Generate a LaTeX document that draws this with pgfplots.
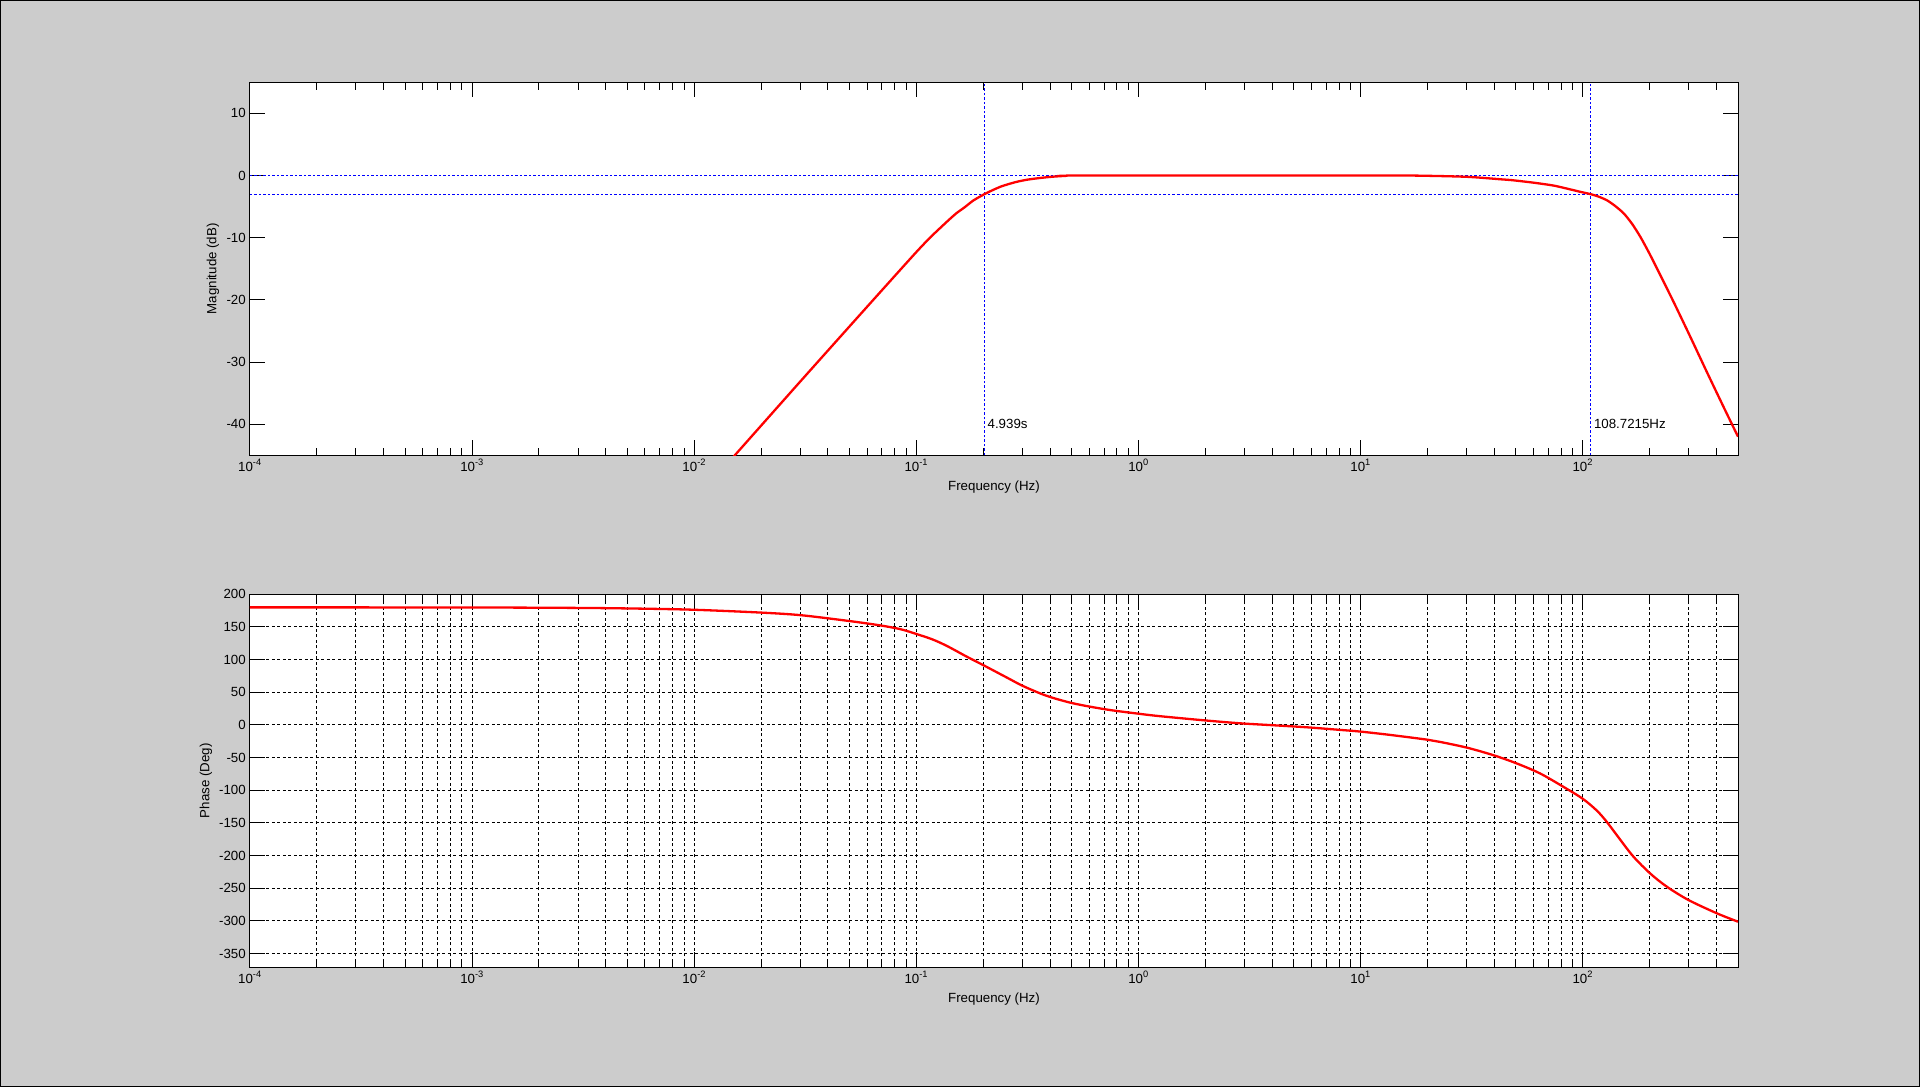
\documentclass[border=0pt]{standalone}
\usepackage{fontspec}
\setmainfont{Liberation Sans}
\usepackage{pgfplots}
\pgfplotsset{compat=1.18}

\definecolor{figbg}{RGB}{204,204,204}
\definecolor{mred}{RGB}{255,0,0}
\definecolor{mblue}{RGB}{0,0,255}

% 1px of the reference = 1pt here
\newcommand{\mf}{\fontsize{13.3}{15}\selectfont}
\newcommand{\freqticks}{10\textsuperscript{-4},10\textsuperscript{-3},10\textsuperscript{-2},10\textsuperscript{-1},10\textsuperscript{0},10\textsuperscript{1},10\textsuperscript{2}}

\begin{document}
\begin{tikzpicture}[x=1pt,y=1pt]
\fill[figbg] (0,0) rectangle (1920,1087);
\draw[line width=1pt] (0.5,0.5) rectangle (1919.5,1086.5);

% ---- magnitude ----
\begin{axis}[
  xmode=log,
  scale only axis,
  width=1488pt, height=373pt,
  at={(250pt,631.7pt)}, anchor=south west,
  xmin=1e-4, xmax=500,
  ymin=-45, ymax=15,
  axis background/.style={fill=white},
  axis line style={line width=1pt},
  every tick/.style={black, line width=1pt},
  major tick length=15pt, minor tick length=7.5pt,
  tick align=inside,
  xtick={1e-4,1e-3,1e-2,1e-1,1,10,100},
  xticklabels/.expand once=\freqticks,
  minor xtick={2e-4,3e-4,4e-4,5e-4,6e-4,7e-4,8e-4,9e-4,
               2e-3,3e-3,4e-3,5e-3,6e-3,7e-3,8e-3,9e-3,
               2e-2,3e-2,4e-2,5e-2,6e-2,7e-2,8e-2,9e-2,
               0.2,0.3,0.4,0.5,0.6,0.7,0.8,0.9,
               2,3,4,5,6,7,8,9,
               20,30,40,50,60,70,80,90,
               200,300,400},
  ytick={-40,-30,-20,-10,0,10},
  yticklabels={-40,-30,-20,-10,0,10},
  tick label style={font=\mf},
  xticklabel style={anchor=north, inner sep=0pt, yshift=-4pt},
  yticklabel style={anchor=east, inner sep=0pt, xshift=-4pt},
  label style={font=\mf},
  xlabel={Frequency (Hz)},
  xlabel style={at={(axis description cs:0.5,-0.0858)}, anchor=center},
  ylabel={Magnitude (dB)},
  ylabel style={at={(axis description cs:-0.0249,0.5)}, anchor=center},
]
% -3 dB markers
\addplot[mblue, line width=1pt, dash pattern=on 2.5pt off 2pt] coordinates {(1e-4,0) (500,0)};
\addplot[mblue, line width=1pt, dash pattern=on 2.5pt off 2pt] coordinates {(1e-4,-3) (500,-3)};
\addplot[mblue, line width=1pt, dash pattern=on 2.5pt off 2pt] coordinates {(0.20247,-45) (0.20247,15)};
\addplot[mblue, line width=1pt, dash pattern=on 2.5pt off 2pt] coordinates {(108.7215,-45) (108.7215,15)};
\addplot[mred, line width=2.3pt, smooth, tension=0.4] coordinates {
  (0.0148,-45.5) (0.0299,-33.2) (0.0502,-24.2) (0.0735,-17.6)
  (0.1,-12.3) (0.1159,-9.9) (0.137,-7.45) (0.151,-6.1) (0.165,-5.1)
  (0.1807,-4.0) (0.2023,-3.0) (0.222,-2.3) (0.2432,-1.7) (0.28,-1.05)
  (0.3162,-0.66) (0.365,-0.37) (0.413,-0.18) (0.47,-0.05) (0.52,0.0) (2,0.0) (8,0.0) (16.75,0.0)
  (29.9,-0.2) (42.6,-0.6) (48.2,-0.75) (60.1,-1.15) (73.6,-1.6)
  (84.9,-2.1) (97.0,-2.6) (108.7,-3.0) (118.0,-3.4) (128.8,-4.0)
  (140.0,-4.9) (153.1,-6.1) (167.0,-7.8) (182.0,-9.9) (198.0,-12.3)
  (216.3,-15.0) (257.0,-20.4) (305.5,-26.0) (363.1,-31.7) (431.5,-37.3)
  (500,-42.0)
};
\node[anchor=west, font=\mf, inner sep=3pt] at (axis cs:0.20247,-40) {4.939s};
\node[anchor=west, font=\mf, inner sep=3pt] at (axis cs:108.7215,-40) {108.7215Hz};
\end{axis}

% ---- phase ----
\begin{axis}[
  xmode=log,
  scale only axis,
  width=1488pt, height=373pt,
  at={(250pt,119.7pt)}, anchor=south west,
  xmin=1e-4, xmax=500,
  ymin=-371, ymax=200,
  axis background/.style={fill=white},
  axis line style={line width=1pt},
  every tick/.style={black, line width=1pt},
  major tick length=15pt, minor tick length=7.5pt,
  tick align=inside,
  xtick={1e-4,1e-3,1e-2,1e-1,1,10,100},
  xticklabels/.expand once=\freqticks,
  minor xtick={2e-4,3e-4,4e-4,5e-4,6e-4,7e-4,8e-4,9e-4,
               2e-3,3e-3,4e-3,5e-3,6e-3,7e-3,8e-3,9e-3,
               2e-2,3e-2,4e-2,5e-2,6e-2,7e-2,8e-2,9e-2,
               0.2,0.3,0.4,0.5,0.6,0.7,0.8,0.9,
               2,3,4,5,6,7,8,9,
               20,30,40,50,60,70,80,90,
               200,300,400},
  ytick={-350,-300,-250,-200,-150,-100,-50,0,50,100,150,200},
  yticklabels={-350,-300,-250,-200,-150,-100,-50,0,50,100,150,200},
  tick label style={font=\mf},
  xticklabel style={anchor=north, inner sep=0pt, yshift=-4pt},
  yticklabel style={anchor=east, inner sep=0pt, xshift=-4pt},
  label style={font=\mf},
  xlabel={Frequency (Hz)},
  xlabel style={at={(axis description cs:0.5,-0.0858)}, anchor=center},
  ylabel={Phase (Deg)},
  ylabel style={at={(axis description cs:-0.0296,0.5)}, anchor=center},
  xmajorgrids, xminorgrids, ymajorgrids,
  major grid style={black, line width=1pt, dash pattern=on 3pt off 2.5pt},
  minor grid style={black, line width=1pt, dash pattern=on 3pt off 2.5pt},
]
\addplot[mred, line width=2.3pt, smooth, tension=0.5] coordinates {
  (0.0001,180) (0.001,179.8) (0.00342,179.0) (0.00713,177.5) (0.01064,176)
  (0.01995,172) (0.0302,168) (0.0501,159) (0.0687,152.4) (0.085,146.5)
  (0.1005,139) (0.118,131) (0.1371,121) (0.1687,104.5) (0.2005,91.4)
  (0.2553,72.6) (0.3034,59.3) (0.3864,44.5) (0.5093,33.0) (0.7194,23.6)
  (1,17.2) (1.25,13.4) (1.968,7.1) (2.871,2.5) (4.055,-0.5)
  (5.728,-3.6) (8.091,-7.6) (10,-10.2) (13.61,-15.3) (19.91,-22.5)
  (22.8,-26.0) (30.13,-34.8) (39.6,-46.3) (50.5,-59.0) (64.3,-74.3)
  (81.8,-94.7) (100,-113) (115.6,-131) (128.2,-148.2) (147.2,-175.3)
  (169.0,-201.5) (200.9,-227.2) (239.3,-247.7) (299.2,-268.0)
  (401.8,-288.4) (500,-301.2)
};
\end{axis}
\end{tikzpicture}
\end{document}
